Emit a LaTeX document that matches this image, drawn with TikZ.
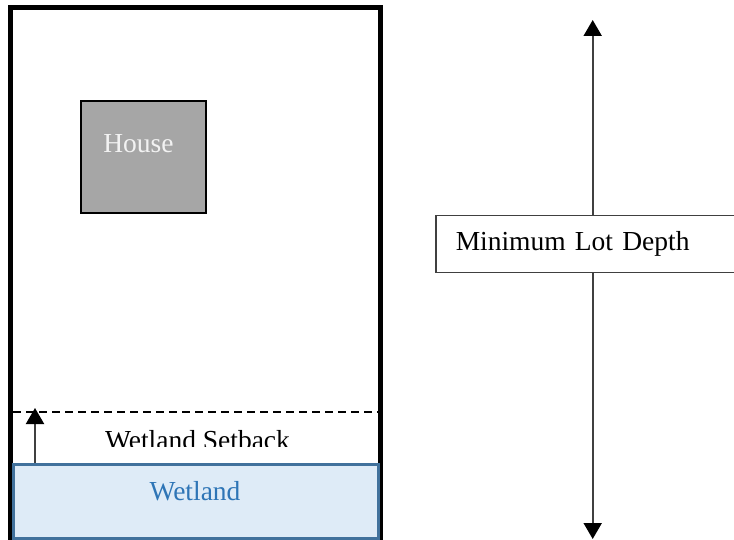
\documentclass[tikz,border=0pt]{standalone}
\usepackage{fontspec}
\setmainfont{Liberation Serif}
\usetikzlibrary{arrows.meta}
\definecolor{housefill}{HTML}{A6A6A6}
\definecolor{housetext}{HTML}{F2F2F2}
\definecolor{wetfill}{HTML}{DEEBF7}
\definecolor{wetdraw}{HTML}{41719C}
\definecolor{wettext}{HTML}{2E75B6}
\definecolor{linegray}{HTML}{404040}
\tikzset{
  bigtext/.style={font=\fontsize{27.5}{33}\selectfont, inner sep=0pt},
  arr/.style={draw=linegray, line width=2pt, -{Triangle[width=18pt,length=16pt,fill=black,color=black]}},
}
\begin{document}
\begin{tikzpicture}[x=1pt,y=-1pt]
\useasboundingbox (0,0) rectangle (734,540);
% lot frame
\node[draw=black, line width=5pt, minimum width=370pt, minimum height=529pt, anchor=north west, inner sep=0pt, outer sep=0pt] (lot) at (10,8) {};
% house
\node[draw=black, fill=housefill, line width=2pt, minimum width=125pt, minimum height=112pt, anchor=north west, inner sep=0pt] (house) at (80,100) {};
\node[bigtext, text=housetext, anchor=base] (housetxt) at (138.5,153) {House};
% wetland
\node[draw=wetdraw, fill=wetfill, line width=2.5pt, minimum width=365pt, minimum height=74pt, anchor=north west, inner sep=0pt] (wet) at (12,463) {};
\node[bigtext, text=wettext, anchor=base] (wettxt) at (195,500) {Wetland};
% setback line
\coordinate (dl) at (13,411.5);
\coordinate (dr) at (378,411.5);
\draw[black, line width=2pt, dash pattern=on 8pt off 5pt] (dl) -- (dr);
% setback label (clipped)
\begin{scope}
\clip (13,415) rectangle (378,446.5);
\node[bigtext, text=black, anchor=base] (sbtxt) at (197.5,449) {Wetland Setback};
\end{scope}
% setback arrow
\coordinate (sbfoot) at (35,463);
\coordinate (sbtip) at (35,408);
\draw[arr] (sbfoot) -- (sbtip);
% minimum lot depth
\coordinate (mtop) at (592.7,20);
\coordinate (mbot) at (592.7,539);
\node[draw=linegray, line width=1.5pt, fill=white, anchor=north west, minimum height=57pt, text width=290pt, inner xsep=20pt, inner ysep=0pt, align=left, font=\fontsize{27.5}{33}\selectfont] (lbl) at (435,215) {Minimum Lot Depth};
\draw[arr] (lbl.north -| mtop) -- (mtop);
\draw[arr] (lbl.south -| mbot) -- (mbot);
\end{tikzpicture}
\end{document}
